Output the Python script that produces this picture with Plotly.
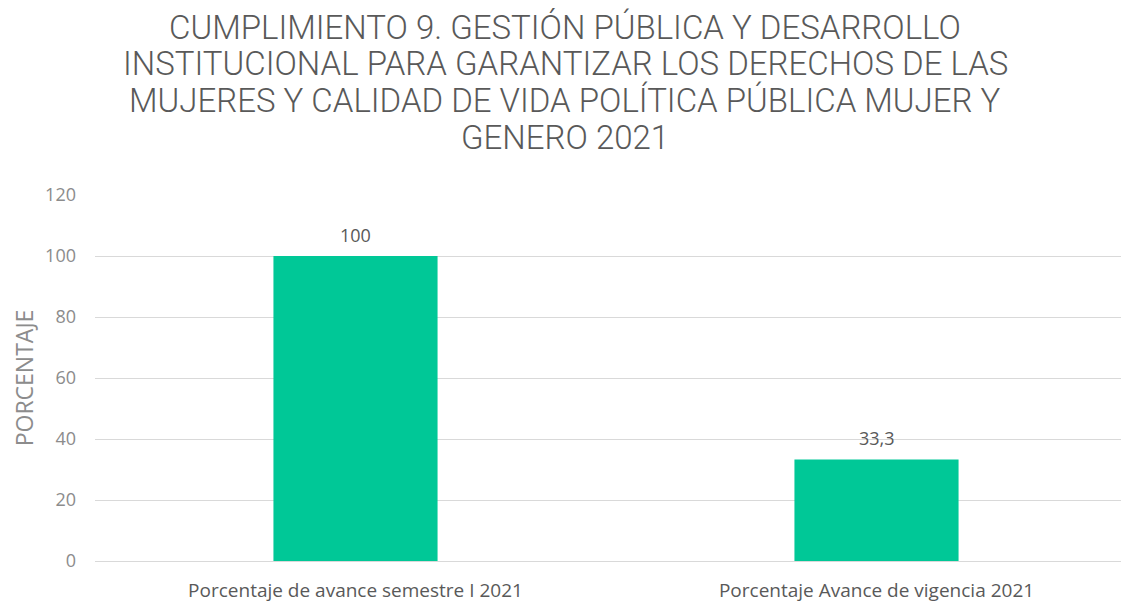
import plotly.graph_objects as go

categories = ["Porcentaje de avance semestre I 2021", "Porcentaje Avance de vigencia 2021"]
values = [100, 33.3]
value_labels = ["100", "33,3"]
y_ticks = [0, 20, 40, 60, 80, 100, 120]

title_lines = [
    "CUMPLIMIENTO 9. GESTIÓN PÚBLICA Y DESARROLLO",
    "INSTITUCIONAL PARA GARANTIZAR LOS DERECHOS DE LAS",
    "MUJERES Y CALIDAD DE VIDA POLÍTICA PÚBLICA MUJER Y",
    "GENERO 2021",
]
title_shifts = [168, 132, 95, 58]

fig = go.Figure()
fig.add_trace(go.Bar(
    x=categories, y=values,
    marker=dict(color="#00C897", line=dict(width=0)),
    cliponaxis=False,
))

for cat, val, lab in zip(categories, values, value_labels):
    fig.add_annotation(
        x=cat, y=val, text=lab, showarrow=False,
        xanchor="center", yanchor="middle", yshift=21,
        font=dict(family="Open Sans", size=18, color="#595959"),
    )

for line, shift in zip(title_lines, title_shifts):
    fig.add_annotation(
        text=line, xref="paper", yref="paper", x=0.4514, y=1,
        xanchor="center", yanchor="middle", yshift=shift, showarrow=False,
        font=dict(family="Roboto", size=33, color="#595959", weight=300),
    )

fig.update_layout(
    width=1129, height=602,
    paper_bgcolor="white", plot_bgcolor="white",
    margin=dict(l=87, r=0, t=187, b=49),
    bargap=0.685,
    showlegend=False,
    font=dict(family="Open Sans", color="#595959"),
)
fig.update_yaxes(
    range=[0, 120], tickvals=y_ticks,
    showgrid=True, gridcolor="#D9D9D9", gridwidth=1,
    zeroline=True, zerolinecolor="#D9D9D9", zerolinewidth=1,
    tickfont=dict(family="Open Sans", size=18, color="#8C8C8C"),
    ticks="", ticklabelstandoff=18,
    title=dict(text="PORCENTAJE", font=dict(family="Open Sans", size=23, color="#8C8C8C"), standoff=12),
)
fig.update_xaxes(
    tickfont=dict(family="Open Sans", size=19, color="#595959"),
    showline=False, ticks="", ticklabelstandoff=16,
)

fig.write_html("out.html")
